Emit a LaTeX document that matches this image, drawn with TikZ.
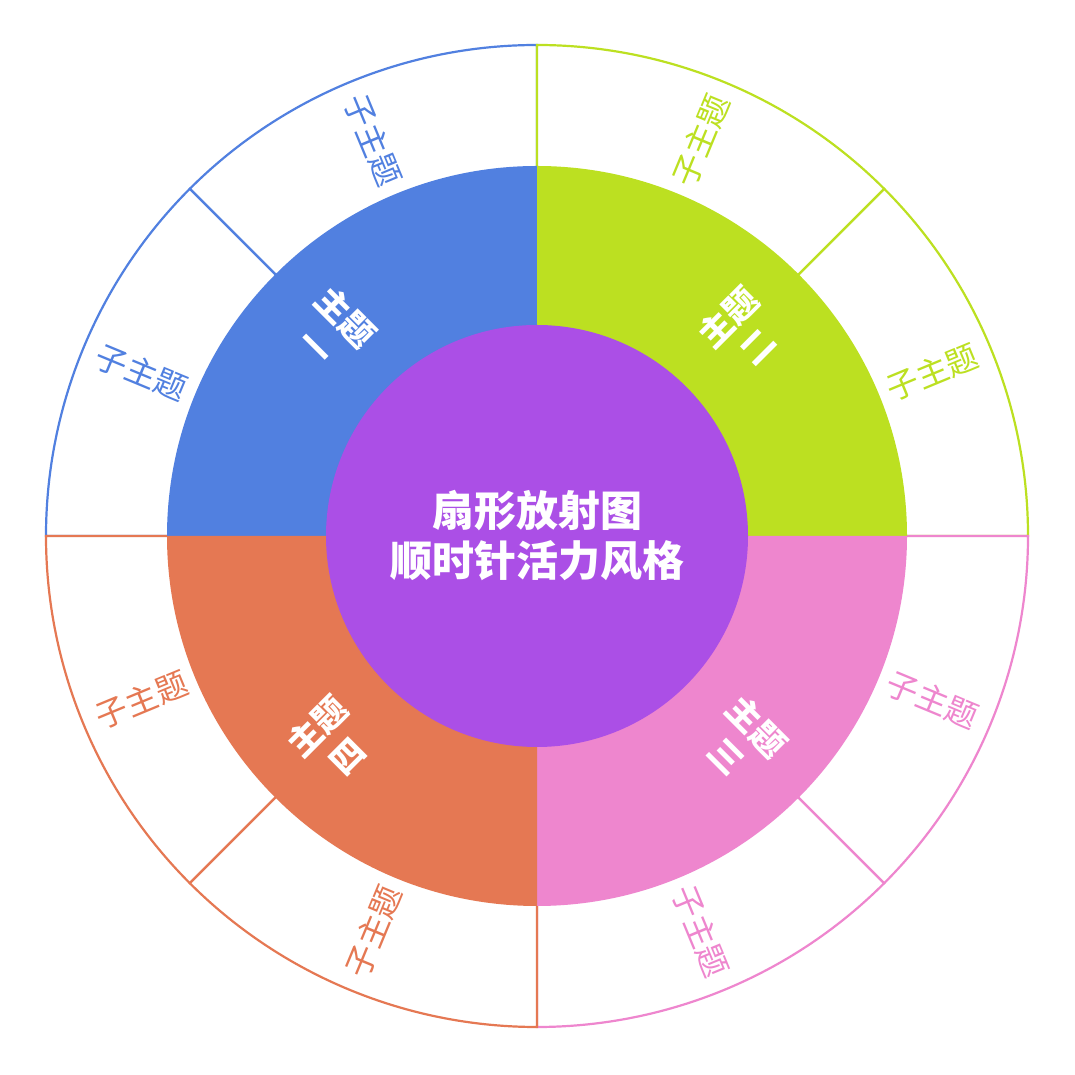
\documentclass[tikz,border=0pt]{standalone}
\usepackage{fontspec}
\usetikzlibrary{calc}
\newfontfamily\cjk{Noto Sans CJK SC}
\definecolor{cb}{HTML}{5180E0}
\definecolor{cg}{HTML}{BCE021}
\definecolor{cp}{HTML}{EE86CE}
\definecolor{co}{HTML}{E57853}
\definecolor{cv}{HTML}{AB4FE6}
\begin{document}
\begin{tikzpicture}[x=1pt,y=1pt,
  sub/.style={font=\cjk\fontsize{32}{36}\selectfont},
  main/.style={font=\cjk\bfseries\fontsize{34}{42}\selectfont,text=white,align=center},
  seg/.style={line width=2.2pt}]
\useasboundingbox (0,0) rectangle (1075,1075);
\coordinate (O) at (537,539);
% outer sectors
\foreach \a/\c in {90/cb,135/cb,0/cg,45/cg,-90/cp,-45/cp,180/co,225/co}{
  \draw[seg,draw=\c,fill=white] (O) -- ++(\a:491) arc[start angle=\a,delta angle=45,radius=491] -- cycle;
}
% middle quadrants
\fill[cb] (O) -- ++(90:370) arc[start angle=90,end angle=180,radius=370] -- cycle;
\fill[cg] (O) -- ++(0:370) arc[start angle=0,end angle=90,radius=370] -- cycle;
\fill[cp] (O) -- ++(-90:370) arc[start angle=-90,end angle=0,radius=370] -- cycle;
\fill[co] (O) -- ++(180:370) arc[start angle=180,end angle=270,radius=370] -- cycle;
\node[circle,fill=cv,minimum size=422pt,inner sep=0pt,
  font=\cjk\bfseries\fontsize{42}{50}\selectfont,text=white,align=center] (c) at (O) {扇形放射图\\顺时针活力风格};
% main topics
\node[main,rotate=-45] (m1) at ($(O)+(135:290)$) {主题\\一};
\node[main,rotate=45] (m2) at ($(O)+(45:290)$) {主题\\二};
\node[main,rotate=-45] (m3) at ($(O)+(-45:290)$) {主题\\三};
\node[main,rotate=45] (m4) at ($(O)+(225:290)$) {主题\\四};
% sub topics
\node[sub,text=cb,rotate=-67.5] (s1) at ($(O)+(112.5:428)$) {子主题};
\node[sub,text=cb,rotate=-22.5] (s2) at ($(O)+(157.5:428)$) {子主题};
\node[sub,text=cg,rotate=67.5] (s3) at ($(O)+(67.5:428)$) {子主题};
\node[sub,text=cg,rotate=22.5] (s4) at ($(O)+(22.5:428)$) {子主题};
\node[sub,text=cp,rotate=-22.5] (s5) at ($(O)+(-22.5:428)$) {子主题};
\node[sub,text=cp,rotate=-67.5] (s6) at ($(O)+(-67.5:428)$) {子主题};
\node[sub,text=co,rotate=22.5] (s7) at ($(O)+(202.5:428)$) {子主题};
\node[sub,text=co,rotate=67.5] (s8) at ($(O)+(247.5:428)$) {子主题};
\end{tikzpicture}
\end{document}
